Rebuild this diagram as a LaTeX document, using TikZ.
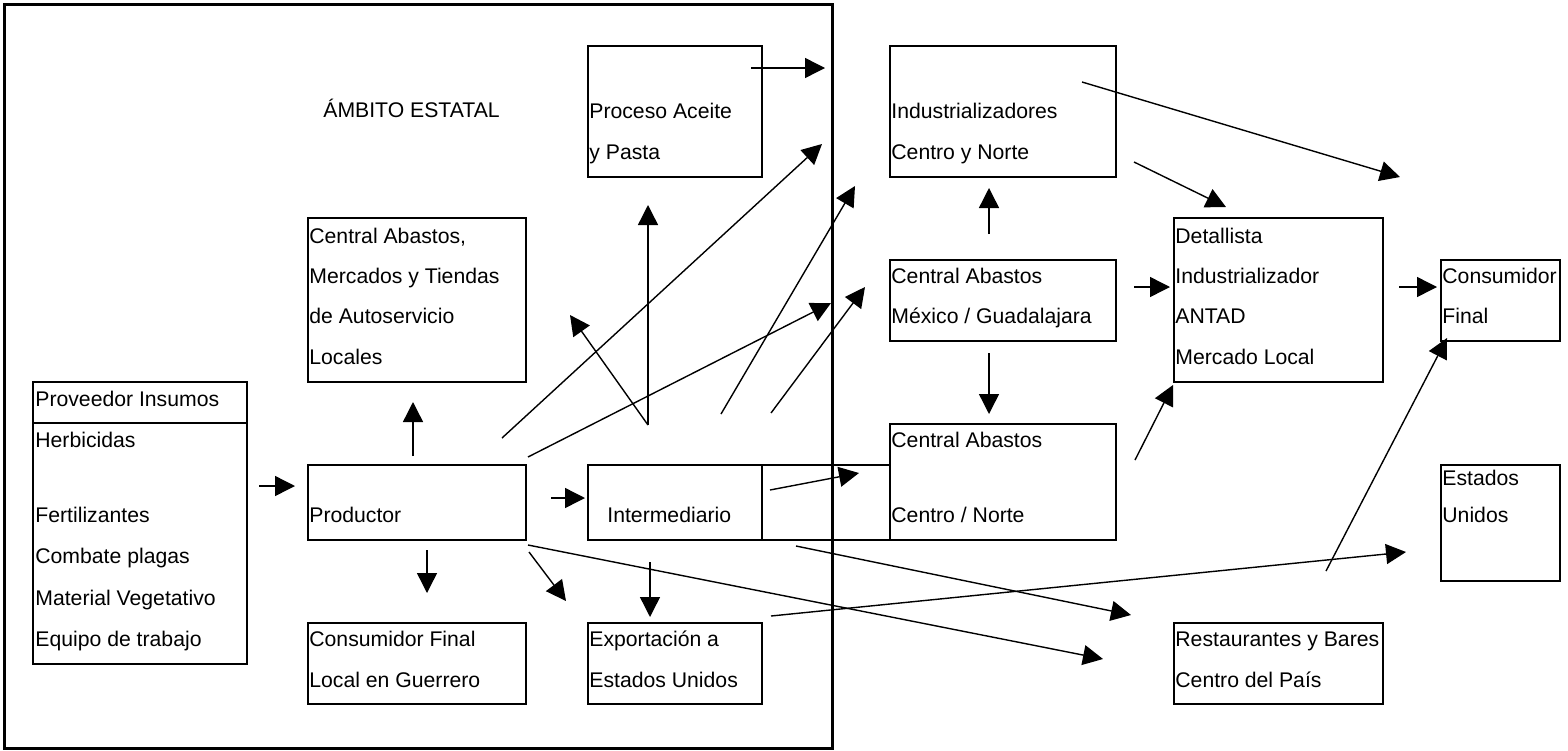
\documentclass[tikz,border=0pt]{standalone}
\usepackage{fontspec}
\setmainfont{Liberation Sans}
\usetikzlibrary{arrows.meta,fit}
\begin{document}
\begin{tikzpicture}[x=0.5pt,y=-0.5pt,
  box/.style={draw,line width=0.95pt,inner sep=0pt},
  frame/.style={draw,line width=1.5pt,inner sep=0pt},
  txt/.style={anchor=base west,inner sep=0pt,font=\fontsize{10.6}{12}\selectfont},
  arr/.style={line width=0.7pt,-{Triangle[length=10pt,width=10pt]}}]
\useasboundingbox (0,0) rectangle (1568,750);

% ---- boxes ----
\node[frame,fit={(4,4) (832,748)}] (ambito) {};
\node[box,fit={(588,46) (762,177)}] (proceso) {};
\node[box,fit={(308,218) (526,382)}] (calocal) {};
\node[box,fit={(33,382) (247,664)}] (proveedor) {};
\draw[line width=0.95pt] (33,423) -- (247,423);
\node[box,fit={(308,465) (526,540)}] (productor) {};
\node[box,fit={(588,465) (890,540)}] (interm) {};
\draw[line width=0.95pt] (762,465) -- (762,540);
\node[box,fit={(308,623) (526,704)}] (cflocal) {};
\node[box,fit={(588,623) (762,704)}] (export) {};
\node[box,fit={(890,46) (1116,177)}] (indus) {};
\node[box,fit={(890,260) (1116,341)}] (camex) {};
\node[box,fit={(890,424) (1116,540)}] (cacn) {};
\node[box,fit={(1174,218) (1383,382)}] (detal) {};
\node[box,fit={(1441,260) (1560,341)}] (cfinal) {};
\node[box,fit={(1441,465) (1560,581)}] (eeuu) {};
\node[box,fit={(1174,623) (1383,704)}] (rest) {};

% ---- texts ----
\node[txt] (tamb) at (323,117) {ÁMBITO ESTATAL};
\node[txt] (tpro1) at (589,118) {Proceso Aceite};
\node[txt] (tpro2) at (589,159) {y Pasta};
\node[txt] (tcal1) at (309,243) {Central Abastos,};
\node[txt] (tcal2) at (309,283) {Mercados y Tiendas};
\node[txt] (tcal3) at (309,323) {de Autoservicio};
\node[txt] (tcal4) at (309,364) {Locales};
\node[txt] (tpv1) at (35,406) {Proveedor Insumos};
\node[txt] (tpv2) at (35,447) {Herbicidas};
\node[txt] (tpv3) at (35,522) {Fertilizantes};
\node[txt] (tpv4) at (35,563) {Combate plagas};
\node[txt] (tpv5) at (35,605) {Material Vegetativo};
\node[txt] (tpv6) at (35,646) {Equipo de trabajo};
\node[txt] (tprod) at (309,522) {Productor};
\node[txt] (tint) at (607,522) {Intermediario};
\node[txt] (tcf1) at (309,646) {Consumidor Final};
\node[txt] (tcf2) at (309,687) {Local en Guerrero};
\node[txt] (texp1) at (589,646) {Exportación a};
\node[txt] (texp2) at (589,687) {Estados Unidos};
\node[txt] (tind1) at (891,118) {Industrializadores};
\node[txt] (tind2) at (891,159) {Centro y Norte};
\node[txt] (tcm1) at (891,283) {Central Abastos};
\node[txt] (tcm2) at (891,323) {México / Guadalajara};
\node[txt] (tcn1) at (891,447) {Central Abastos};
\node[txt] (tcn2) at (891,522) {Centro / Norte};
\node[txt] (tdet1) at (1175,243) {Detallista};
\node[txt] (tdet2) at (1175,283) {Industrializador};
\node[txt] (tdet3) at (1175,323) {ANTAD};
\node[txt] (tdet4) at (1175,364) {Mercado Local};
\node[txt] (tcfi1) at (1442,283) {Consumidor};
\node[txt] (tcfi2) at (1442,323) {Final};
\node[txt] (teu1) at (1442,485) {Estados};
\node[txt] (teu2) at (1442,522) {Unidos};
\node[txt] (tres1) at (1175,646) {Restaurantes y Bares};
\node[txt] (tres2) at (1175,687) {Centro del País};

% ---- arrow end points ----
\coordinate (a1s) at (751,68);   \coordinate (a1e) at (825,68);
\coordinate (a2s) at (259,486);  \coordinate (a2e) at (295,486);
\coordinate (a3s) at (551,498);  \coordinate (a3e) at (585,498);
\coordinate (a4s) at (413,456);  \coordinate (a4e) at (413,402);
\coordinate (a5s) at (427,550);  \coordinate (a5e) at (427,593);
\coordinate (a6s) at (529,552);  \coordinate (a6e) at (566,601);
\coordinate (a7s) at (650,562);  \coordinate (a7e) at (650,617);
\coordinate (a8s) at (528,545);  \coordinate (a8e) at (1103,659);
\coordinate (a9s) at (771,616);  \coordinate (a9e) at (1406,552);
\coordinate (a10s) at (796,546); \coordinate (a10e) at (1131,615);
\coordinate (a11s) at (770,490); \coordinate (a11e) at (859,473);
\coordinate (a12s) at (528,457); \coordinate (a12e) at (831,303);
\coordinate (a13s) at (502,438); \coordinate (a13e) at (822,144);
\coordinate (a14s) at (648,425); \coordinate (a14e) at (648,205);
\coordinate (a15e) at (570,315);
\coordinate (a16s) at (721,414); \coordinate (a16e) at (855,186);
\coordinate (a17s) at (771,413); \coordinate (a17e) at (865,287);
\coordinate (a18s) at (1082,82); \coordinate (a18e) at (1400,177);
\coordinate (a19s) at (1134,162); \coordinate (a19e) at (1226,207);
\coordinate (a20s) at (989,234); \coordinate (a20e) at (989,188);
\coordinate (a21s) at (1134,287); \coordinate (a21e) at (1170,287);
\coordinate (a22s) at (1399,287); \coordinate (a22e) at (1437,287);
\coordinate (a23s) at (989,353); \coordinate (a23e) at (989,414);
\coordinate (a24s) at (1135,460); \coordinate (a24e) at (1173,385);
\coordinate (a25s) at (1326,571); \coordinate (a25e) at (1447,338);

% ---- arrows ----
\foreach \i in {1,2,3,4,5,6,7,8,9,10,11,12,13,14,16,17,18,19,20,21,22,23,24,25}
  \draw[arr] (a\i s) -- (a\i e);
\draw[arr] (a14s) -- (a15e);
\end{tikzpicture}
\end{document}
